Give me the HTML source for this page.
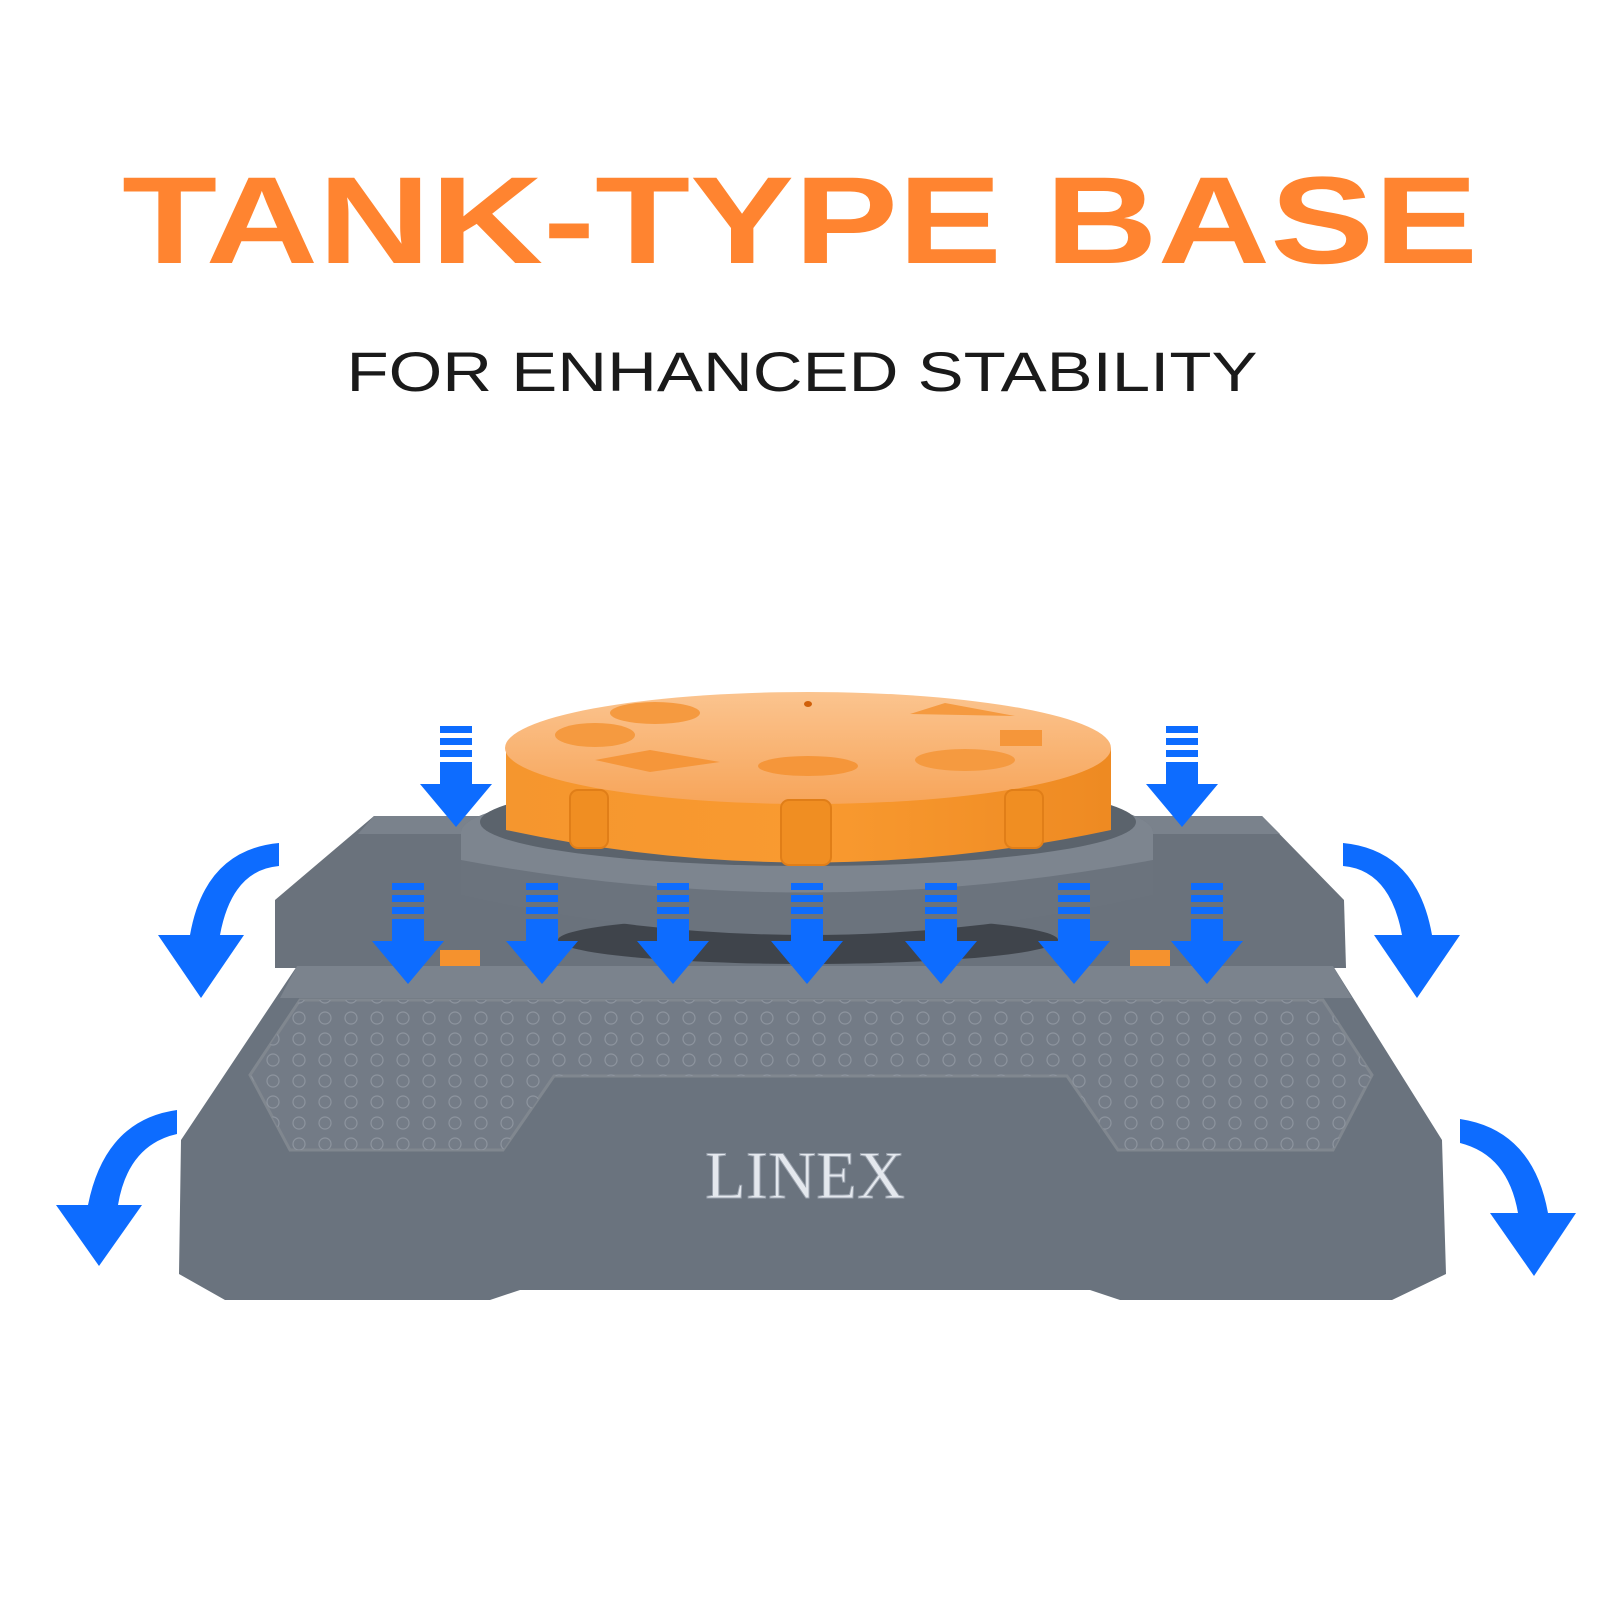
<!DOCTYPE html>
<html><head><meta charset="utf-8"><style>html,body{margin:0;padding:0;background:#fff}svg{display:block}</style></head>
<body>
<svg width="1600" height="1600" viewBox="0 0 1600 1600" xmlns="http://www.w3.org/2000/svg">
<defs>
<linearGradient id="orTop" x1="0" y1="0" x2="0" y2="1"><stop offset="0" stop-color="#fbc48f"/><stop offset="1" stop-color="#f7a55a"/></linearGradient>
<linearGradient id="orSide" x1="0" y1="0" x2="1" y2="0"><stop offset="0" stop-color="#f5962e"/><stop offset="0.5" stop-color="#f99a30"/><stop offset="1" stop-color="#ee8a22"/></linearGradient>
<pattern id="dots" x="0" y="0" width="26" height="21" patternUnits="userSpaceOnUse"><circle cx="13" cy="10" r="6" fill="#747c87" stroke="#8d949e" stroke-width="1.2"/></pattern>
<g id="sa"><rect x="-16" y="0" width="32" height="7" fill="#0d6cff"/><rect x="-16" y="12" width="32" height="7" fill="#0d6cff"/><rect x="-16" y="24" width="32" height="7" fill="#0d6cff"/><rect x="-16" y="36" width="32" height="22" fill="#0d6cff"/><polygon points="-36,58 36,58 0,101" fill="#0d6cff"/></g>
</defs>
<text x="800" y="263" text-anchor="middle" font-family="Liberation Sans, sans-serif" font-weight="bold" font-size="124" fill="#ff8430" textLength="1356" lengthAdjust="spacingAndGlyphs">TANK-TYPE BASE</text>
<text x="802" y="391" text-anchor="middle" font-family="Liberation Sans, sans-serif" font-size="56" fill="#1a1a1a" textLength="911" lengthAdjust="spacingAndGlyphs">FOR ENHANCED STABILITY</text>

<!-- back base -->
<polygon points="374,816 1262,816 1344,900 1346,968 275,968 275,900" fill="#6a727c"/>
<polygon points="374,816 1262,816 1280,834 358,834" fill="#7a828c"/>
<!-- dark underside -->
<ellipse cx="808" cy="940" rx="250" ry="24" fill="#3f444b"/>
<rect x="440" y="950" width="40" height="16" fill="#f5922e"/>
<rect x="1130" y="950" width="40" height="16" fill="#f5922e"/>
<!-- gray ring -->
<path d="M461,832 A346,50 0 0 1 1153,832 L1153,895 Q808,975 461,895 Z" fill="#6b737d"/>
<path d="M461,832 A346,50 0 0 1 1153,832 L1153,860 Q808,925 461,860 Z" fill="#7d858f"/>
<ellipse cx="808" cy="822" rx="328" ry="44" fill="#5b636c"/>
<!-- orange cap -->
<path d="M506,748 L506,830 Q808,895 1111,830 L1111,748 Z" fill="url(#orSide)"/>
<ellipse cx="808" cy="748" rx="303" ry="56" fill="url(#orTop)"/>
<rect x="781" y="800" width="50" height="65" rx="8" fill="#f08e22" stroke="#e07e18" stroke-width="2"/>
<rect x="570" y="790" width="38" height="58" rx="8" fill="#f08e22" stroke="#e07e18" stroke-width="2"/>
<rect x="1005" y="790" width="38" height="58" rx="8" fill="#f08e22" stroke="#e07e18" stroke-width="2"/>
<ellipse cx="655" cy="713" rx="45" ry="11" fill="#f59a40"/>
<ellipse cx="595" cy="735" rx="40" ry="12" fill="#f59a40"/>
<polygon points="595,760 650,750 720,762 650,772" fill="#f5963a"/>
<ellipse cx="808" cy="766" rx="50" ry="10" fill="#f5963a"/>
<ellipse cx="965" cy="760" rx="50" ry="11" fill="#f59a40"/>
<polygon points="910,714 945,703 1015,716" fill="#f59a40"/>
<rect x="1000" y="730" width="42" height="16" fill="#f5963a"/>
<ellipse cx="808" cy="704" rx="4" ry="3" fill="#d0600a"/>

<!-- front base -->
<polygon points="297,966 1333,966 1442,1140 1446,1274 1392,1300 1120,1300 1090,1290 520,1290 490,1300 225,1300 179,1274 181,1140" fill="#6a737e"/>
<polygon points="297,966 1333,966 1352,998 280,998" fill="#7b838d"/>
<polygon points="300,1000 1323,1000 1372,1075 1333,1150 1118,1150 1067,1076 554,1076 503,1150 290,1150 250,1075" fill="#737b86" stroke="#80878f" stroke-width="3"/>
<polygon points="300,1000 1323,1000 1372,1075 1333,1150 1118,1150 1067,1076 554,1076 503,1150 290,1150 250,1075" fill="url(#dots)"/>
<text x="805" y="1198" text-anchor="middle" font-family="Liberation Serif, serif" font-size="68" fill="#e4e8ee" stroke="#9aa2ad" stroke-width="1" textLength="200" lengthAdjust="spacingAndGlyphs">LINEX</text>

<!-- straight arrows -->
<use href="#sa" x="456" y="726"/>
<use href="#sa" x="1182" y="726"/>
<use href="#sa" x="408" y="883"/>
<use href="#sa" x="542" y="883"/>
<use href="#sa" x="673" y="883"/>
<use href="#sa" x="807" y="883"/>
<use href="#sa" x="941" y="883"/>
<use href="#sa" x="1074" y="883"/>
<use href="#sa" x="1207" y="883"/>

<!-- curved arrows -->
<g fill="#0d6cff">
<path d="M279,843 Q205,850 190,935 L220,935 Q232,870 279,866 Z"/>
<polygon points="158,935 244,935 201,998"/>
<path d="M1343,843 Q1417,850 1432,935 L1402,935 Q1390,870 1343,866 Z"/>
<polygon points="1374,935 1460,935 1417,998"/>
<path d="M177,1110 Q105,1120 88,1205 L118,1205 Q128,1145 177,1134 Z"/>
<polygon points="56,1205 142,1205 99,1266"/>
<path d="M1460,1119 Q1533,1130 1548,1213 L1518,1213 Q1508,1155 1460,1143 Z"/>
<polygon points="1490,1213 1576,1213 1534,1276"/>
</g>
</svg>
</body></html>
